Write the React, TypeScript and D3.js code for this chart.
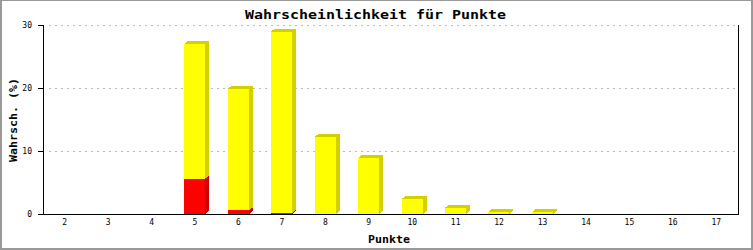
import React from "react";
import * as d3 from "d3";

const categories = ["2", "3", "4", "5", "6", "7", "8", "9", "10", "11", "12", "13", "14", "15", "16", "17"];
const redValues = [0, 0, 0, 5.6, 0.6, 0.15, 0, 0, 0, 0, 0, 0, 0, 0, 0, 0];
const yellowValues = [0, 0, 0, 21.4, 19.3, 28.8, 12.3, 8.9, 2.4, 1.0, 0.3, 0.3, 0, 0, 0, 0];
const yTicks = [0, 10, 20, 30];
const title = "Wahrscheinlichkeit für Punkte";
const xTitle = "Punkte";
const yTitle = "Wahrsch. (%)";

const W = 753;
const H = 250;
const left = 43;
const right = 738;
const top = 25;
const bottom = 214;
const DX = 4;
const DY = 3;
const FONT = "'DejaVu Sans Mono', 'Liberation Mono', monospace";

export default function App() {
  const x = d3.scaleBand<string>().domain(categories).range([left, right]).paddingInner(0).paddingOuter(0);
  const y = d3.scaleLinear().domain([0, 30]).range([bottom, top]);
  const bw = x.bandwidth() * 0.49;

  const series = [
    { values: redValues, front: "#ff0000", side: "#cc0000" },
    { values: yellowValues, front: "#ffff00", side: "#d4d000" },
  ];

  const bars: JSX.Element[] = [];
  categories.forEach((c, i) => {
    let base = 0;
    series.forEach((s, si) => {
      const v = s.values[i];
      if (v <= 0) return;
      const x0 = Math.round((x(c) as number) + (x.bandwidth() - bw) / 2);
      const x1 = Math.round(x0 + bw);
      const yb = y(base);
      const yt = y(base + v);
      const pts = [
        [x0, yt],
        [x0 + DX, yt - DY],
        [x1 + DX, yt - DY],
        [x1 + DX, yb - DY],
        [x1, yb],
        [x1, yt],
      ]
        .map((p) => p.join(","))
        .join(" ");
      bars.push(
        <g key={`${c}-${si}`}>
          <polygon points={pts} fill={s.side} />
          <rect x={x0} y={yt} width={x1 - x0} height={Math.max(0.8, yb - yt)} fill={s.front} />
        </g>
      );
      base += v;
    });
  });

  return (
    <svg
      width={W}
      height={H}
      style={{ position: "absolute", left: 0, top: 0, background: "#fff" }}
      shapeRendering="crispEdges"
    >
      <rect x={0} y={0} width={W} height={H} fill="#ffffff" />
      <rect x={0.5} y={0.5} width={W - 1.5} height={H - 1.5} fill="none" stroke="#999999" strokeWidth={1} />
      <line x1={1} y1={H - 1.5} x2={W} y2={H - 1.5} stroke="#999999" strokeWidth={1} />
      <line x1={W - 1.5} y1={0} x2={W - 1.5} y2={H} stroke="#999999" strokeWidth={1} />
      <line x1={1.5} y1={0} x2={1.5} y2={H} stroke="#999999" strokeWidth={1} />

      {yTicks
        .filter((t) => t > 0)
        .map((t) => (
          <line
            key={`g${t}`}
            x1={left + 6}
            x2={right}
            y1={Math.round(y(t)) + 0.5}
            y2={Math.round(y(t)) + 0.5}
            stroke="#bbbbbb"
            strokeDasharray="2,4"
          />
        ))}

      {bars}

      <line x1={left + 0.5} x2={left + 0.5} y1={top} y2={bottom + 1} stroke="#000" />
      <line x1={right + 0.5} x2={right + 0.5} y1={top} y2={bottom + 1} stroke="#000" />
      <line x1={left} x2={right + 1} y1={bottom + 0.5} y2={bottom + 0.5} stroke="#000" />

      {yTicks.map((t) => (
        <g key={`t${t}`}>
          <line x1={left - 5} x2={left} y1={Math.round(y(t)) + 0.5} y2={Math.round(y(t)) + 0.5} stroke="#000" />
          <text
            x={32}
            y={y(t) + 3}
            textAnchor="end"
            fontFamily={FONT}
            fontSize={8}
            fill="#000"
          >
            {t}
          </text>
        </g>
      ))}

      {categories.map((c) => (
        <text
          key={`xl${c}`}
          x={(x(c) as number) + x.bandwidth() / 2}
          y={225}
          textAnchor="middle"
          fontFamily={FONT}
          fontSize={8}
          fill="#000"
        >
          {c}
        </text>
      ))}

      <text
        x={375.5}
        y={19}
        textAnchor="middle"
        fontFamily={FONT}
        fontWeight="bold"
        fontSize={12}
        textLength={261}
        lengthAdjust="spacingAndGlyphs"
        fill="#000"
      >
        {title}
      </text>
      <text
        x={389}
        y={243}
        textAnchor="middle"
        fontFamily={FONT}
        fontWeight="bold"
        fontSize={11}
        textLength={42}
        lengthAdjust="spacingAndGlyphs"
        fill="#000"
      >
        {xTitle}
      </text>
      <text
        transform="translate(17,120) rotate(-90)"
        textAnchor="middle"
        fontFamily={FONT}
        fontWeight="bold"
        fontSize={11}
        textLength={84}
        lengthAdjust="spacingAndGlyphs"
        fill="#000"
      >
        {yTitle}
      </text>
    </svg>
  );
}
